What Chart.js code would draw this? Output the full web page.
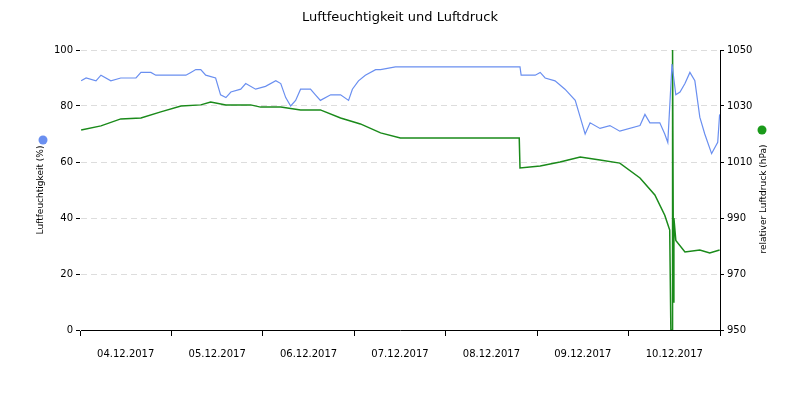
<!DOCTYPE html>
<html>
<head>
<meta charset="utf-8">
<script src="https://cdn.jsdelivr.net/npm/chart.js@4/dist/chart.umd.min.js"></script>
<style>
  body { margin: 0; background: #fff; }
  #wrap { width: 800px; height: 400px; }
</style>
</head>
<body>
<div id="wrap"><canvas id="c"></canvas></div>
<script>
// Stunden ab 04.12.2017 00:00
const dayLabels = ["04.12.2017", "05.12.2017", "06.12.2017", "07.12.2017", "08.12.2017", "09.12.2017", "10.12.2017"];

const humHours = [0.3, 1.6, 4.2, 5.5, 8.1, 10.7, 14.7, 16, 18.6, 19.9, 27.8, 29.1, 30.4, 31.7, 33, 35.6, 36.9, 38.3, 39.6, 42.2, 43.5, 46.1, 48.7, 51.4, 52.7, 54, 55.3, 56.6, 57.9, 60.5, 61.8, 63.1, 65.8, 68.4, 70.5, 71.5, 73.1, 74.9, 77.6, 78.9, 82.8, 115.5, 115.8, 119.5, 120.8, 122.1, 124.7, 127.3, 130, 131.3, 132.6, 133.9, 136.5, 139.1, 141.7, 147, 148.3, 149.6, 152.2, 153.5, 154.3, 155.4, 156.4, 157.5, 158.8, 160.1, 161.4, 162.7, 164, 165.8, 167.4, 167.9];
const humValues = [89, 90, 89, 91, 89, 90, 90, 92, 92, 91, 91, 92, 93, 93, 91, 90, 84, 83, 85, 86, 88, 86, 87, 89, 88, 83, 80, 82, 86, 86, 84, 82, 84, 84, 82, 86, 89, 91, 93, 93, 94, 94, 91, 91, 92, 90, 89, 86, 82, 76, 70, 74, 72, 73, 71, 73, 77, 74, 74, 70, 67, 95, 84, 85, 88, 92, 89, 76, 70, 63, 67, 77];

const presHours = [0.3, 5.5, 10.7, 16, 21.2, 26.5, 31.7, 34.3, 38.3, 44.8, 47.4, 52.7, 57.9, 63.1, 68.4, 73.6, 78.9, 84.1, 89.3, 115.3, 115.5, 120.8, 126, 131.3, 136.5, 141.7, 147, 150.9, 153.5, 154.8, 155.1, 155.4, 155.5, 155.6, 155.8, 155.9, 156.4, 158.8, 162.7, 165.3, 167.9];
const presValues = [1021.4, 1022.9, 1025.4, 1025.7, 1027.9, 1030, 1030.4, 1031.4, 1030.4, 1030.4, 1029.6, 1029.6, 1028.6, 1028.6, 1025.7, 1023.6, 1020.4, 1018.6, 1018.6, 1018.6, 1007.9, 1008.6, 1010, 1011.8, 1010.7, 1009.6, 1004.3, 998.2, 991, 985.7, 950, 950, 1050, 1050, 960, 990, 982, 977.9, 978.6, 977.5, 978.6];

const humData = humHours.map((h, i) => ({ x: h, y: humValues[i] }));
const presData = presHours.map((h, i) => ({ x: h, y: presValues[i] }));

// Titel und Achsenbeschriftungen mit Punkt selbst zeichnen
const decor = {
  id: "decor",
  afterDraw(chart) {
    const ctx = chart.ctx;
    ctx.save();
    ctx.fillStyle = "#000";
    ctx.font = "13px 'DejaVu Sans'";
    ctx.textAlign = "center";
    ctx.textBaseline = "middle";
    ctx.fillText("Luftfeuchtigkeit und Luftdruck", 400, 18);
    ctx.font = "9px 'DejaVu Sans'";
    // links
    ctx.save();
    ctx.translate(41, 190);
    ctx.rotate(-Math.PI / 2);
    ctx.fillText("Luftfeuchtigkeit (%)", 0, 0);
    ctx.restore();
    // rechts
    ctx.save();
    ctx.translate(764, 199);
    ctx.rotate(-Math.PI / 2);
    ctx.fillText("relativer Luftdruck (hPa)", 0, 0);
    ctx.restore();
    ctx.fillStyle = "#6a8ff0";
    ctx.beginPath(); ctx.arc(43, 140, 4.5, 0, Math.PI * 2); ctx.fill();
    ctx.fillStyle = "#1a9a1a";
    ctx.beginPath(); ctx.arc(762, 130, 4.5, 0, Math.PI * 2); ctx.fill();
    ctx.restore();
  }
};

new Chart(document.getElementById("c"), {
  type: "line",
  data: {
    datasets: [
      { label: "Luftfeuchtigkeit", data: humData, yAxisID: "y", xAxisID: "x",
        borderColor: "#6a8ff0", borderWidth: 1.2, pointRadius: 0, tension: 0 },
      { label: "Luftdruck", data: presData, yAxisID: "y1", xAxisID: "x",
        borderColor: "#1a8a1a", borderWidth: 1.5, pointRadius: 0, tension: 0 }
    ]
  },
  options: {
    responsive: true,
    maintainAspectRatio: false,
    animation: false,
    layout: { padding: { top: 50, left: 0, right: 0, bottom: 0 } },
    plugins: { legend: { display: false }, tooltip: { enabled: false } },
    scales: {
      x: {
        type: "linear", min: 0, max: 168, position: "bottom",
        afterBuildTicks: (s) => { s.ticks = [0, 24, 48, 72, 96, 120, 144, 168].map(v => ({ value: v })); },
        ticks: { display: false },
        grid: { drawOnChartArea: false, tickLength: 6, color: "#000" },
        border: { color: "#000" },
        afterFit: (s) => { s.height = 6; }
      },
      x2: {
        type: "linear", min: 0, max: 168, position: "bottom",
        afterBuildTicks: (s) => { s.ticks = dayLabels.map((d, i) => ({ value: 12 + 24 * i })); },
        ticks: {
          autoSkip: false, maxRotation: 0, padding: 4,
          color: "#000", font: { size: 10, family: "DejaVu Sans" },
          callback: (v) => dayLabels[Math.round((v - 12) / 24)]
        },
        grid: { display: false },
        border: { display: false },
        afterFit: (s) => { s.height = 64; }
      },
      y: {
        position: "left", min: 0, max: 100,
        ticks: { stepSize: 20, color: "#000", font: { size: 10, family: "DejaVu Sans" } },
        grid: { color: "#ddd", tickLength: 4, tickColor: "#000" },
        border: { color: "#fff", dash: [6, 4] },
        afterFit: (s) => { s.width = 80; }
      },
      y1: {
        position: "right", min: 950, max: 1050,
        ticks: { stepSize: 20, color: "#000", font: { size: 10, family: "DejaVu Sans" },
          callback: (v) => String(v) },
        grid: { drawOnChartArea: false, tickLength: 4, tickColor: "#000" },
        border: { color: "#000" },
        afterFit: (s) => { s.width = 80; }
      }
    }
  },
  plugins: [decor]
});
</script>
</body>
</html>
